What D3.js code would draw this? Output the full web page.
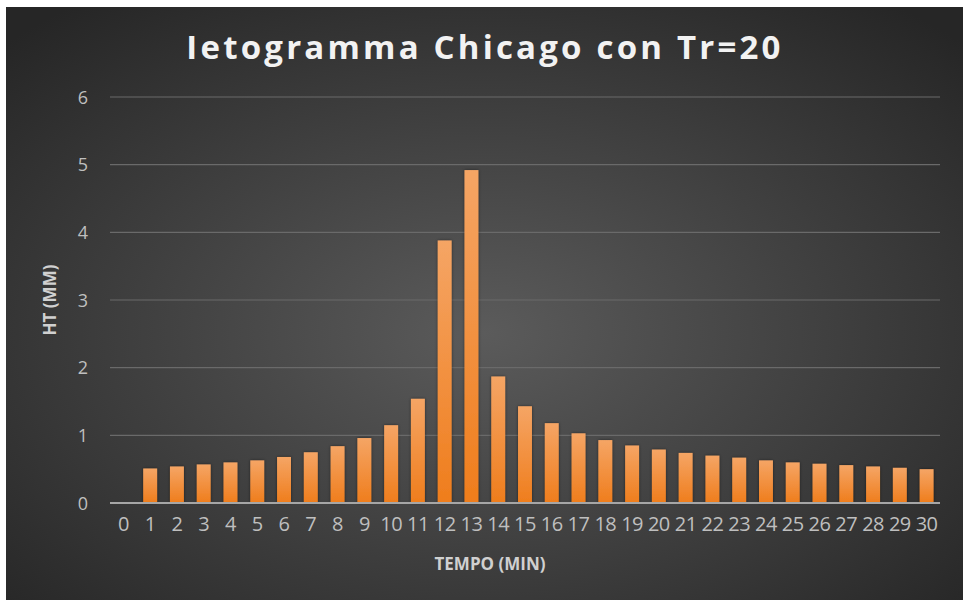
<!DOCTYPE html>
<html>
<head>
<meta charset="utf-8">
<script src="https://cdn.jsdelivr.net/npm/d3@7"></script>
<style>
  html, body { margin: 0; padding: 0; background: #fff; }
  svg { display: block; }
</style>
</head>
<body>
<svg width="963" height="600"></svg>
<script>
var minutes = d3.range(0, 31);
var ht = [null, 0.51, 0.54, 0.57, 0.60, 0.63, 0.68, 0.75, 0.84, 0.96, 1.15,
          1.54, 3.88, 4.92, 1.87, 1.43, 1.18, 1.03, 0.93, 0.85, 0.79,
          0.74, 0.70, 0.67, 0.63, 0.60, 0.58, 0.56, 0.54, 0.52, 0.50];
var yTicks = [0, 1, 2, 3, 4, 5, 6];

var svg = d3.select('svg');
var width = +svg.attr("width");
var height = +svg.attr("height");

var margin = {top: 97, right: 23, bottom: 97, left: 110};

var defs = svg.append("defs");

var bg = defs.append("radialGradient")
    .attr("id", "bg")
    .attr("cx", "50%").attr("cy", "55%").attr("r", "70%");
bg.append("stop").attr("offset", "0%").attr("stop-color", "#5b5b5b");
bg.append("stop").attr("offset", "100%").attr("stop-color", "#262626");

var barGrad = defs.append("linearGradient")
    .attr("id", "bar")
    .attr("x1", 0).attr("y1", 0).attr("x2", 0).attr("y2", 1);
barGrad.append("stop").attr("offset", "0%").attr("stop-color", "#f5a565");
barGrad.append("stop").attr("offset", "100%").attr("stop-color", "#ef7d1c");

var shadow = defs.append("filter").attr("id", "shadow")
    .attr("x", "-30%").attr("y", "-10%").attr("width", "160%").attr("height", "120%");
shadow.append("feDropShadow")
    .attr("dx", 0).attr("dy", 0).attr("stdDeviation", 1.5)
    .attr("flood-color", "#000").attr("flood-opacity", 0.5);

// background card
svg.append("rect")
    .attr("x", 6).attr("y", 7)
    .attr("width", width - 6).attr("height", height - 7)
    .attr("fill", "url(#bg)");

var x = d3.scaleBand()
    .domain(minutes)
    .range([margin.left, width - margin.right])
    .paddingInner(0.48)
    .paddingOuter(0.24);

var y = d3.scaleLinear()
    .domain([0, 6])
    .range([height - margin.bottom, margin.top]);

// gridlines
svg.append("g")
    .selectAll("line")
    .data(yTicks.slice(1))
    .enter()
    .append("line")
    .attr("x1", margin.left)
    .attr("x2", width - margin.right)
    .attr("y1", function(d) { return y(d); })
    .attr("y2", function(d) { return y(d); })
    .attr("stroke", "#6a6a6a")
    .attr("stroke-width", 1.2);

// bars
svg.append("g")
    .selectAll("rect")
    .data(minutes.filter(function(m) { return ht[m] != null; }))
    .enter()
    .append("rect")
    .attr("x", function(m) { return x(m); })
    .attr("width", x.bandwidth())
    .attr("y", function(m) { return y(ht[m]); })
    .attr("height", function(m) { return y(0) - y(ht[m]); })
    .attr("fill", "url(#bar)")
    .attr("filter", "url(#shadow)");

// baseline
svg.append("line")
    .attr("x1", margin.left)
    .attr("x2", width - margin.right)
    .attr("y1", y(0))
    .attr("y2", y(0))
    .attr("stroke", "#a6a6a6")
    .attr("stroke-width", 2);

// y axis labels
var yAxis = svg.append("g")
    .attr("transform", "translate(" + (margin.left - 27) + ",0)")
    .call(d3.axisLeft(y).tickValues(yTicks).tickFormat(d3.format("d")).tickSize(0).tickPadding(0));
yAxis.select(".domain").remove();
yAxis.selectAll("text")
    .attr("fill", "#bfbfbf")
    .style("font-family", "Open Sans")
    .style("font-size", "18px")
    .attr("text-anchor", "middle")
    .attr("dy", "0.35em");

// x axis labels
var xAxis = svg.append("g")
    .attr("transform", "translate(0," + (y(0) + 14) + ")")
    .call(d3.axisBottom(x).tickSize(0).tickPadding(0));
xAxis.select(".domain").remove();
xAxis.selectAll("text")
    .attr("fill", "#bfbfbf")
    .style("font-family", "Open Sans")
    .style("font-size", "20px")
    .style("letter-spacing", "-0.5px")
    .attr("dy", "0.71em");

// title
svg.append("text")
    .attr("x", 485)
    .attr("y", 59)
    .attr("text-anchor", "middle")
    .attr("fill", "#f2f2f2")
    .style("font-family", "Open Sans")
    .style("font-weight", 700)
    .style("font-size", "33px")
    .style("letter-spacing", "3.2px")
    .text("Ietogramma Chicago con Tr=20");

// axis titles
svg.append("text")
    .attr("transform", "translate(56,300) rotate(-90)")
    .attr("text-anchor", "middle")
    .attr("fill", "#d0d0d0")
    .style("font-family", "Open Sans")
    .style("font-weight", 700)
    .style("font-size", "17px")
    .text("HT (MM)");

svg.append("text")
    .attr("x", 490)
    .attr("y", 570)
    .attr("text-anchor", "middle")
    .attr("fill", "#d0d0d0")
    .style("font-family", "Open Sans")
    .style("font-weight", 700)
    .style("font-size", "17px")
    .text("TEMPO (MIN)");
</script>
</body>
</html>
